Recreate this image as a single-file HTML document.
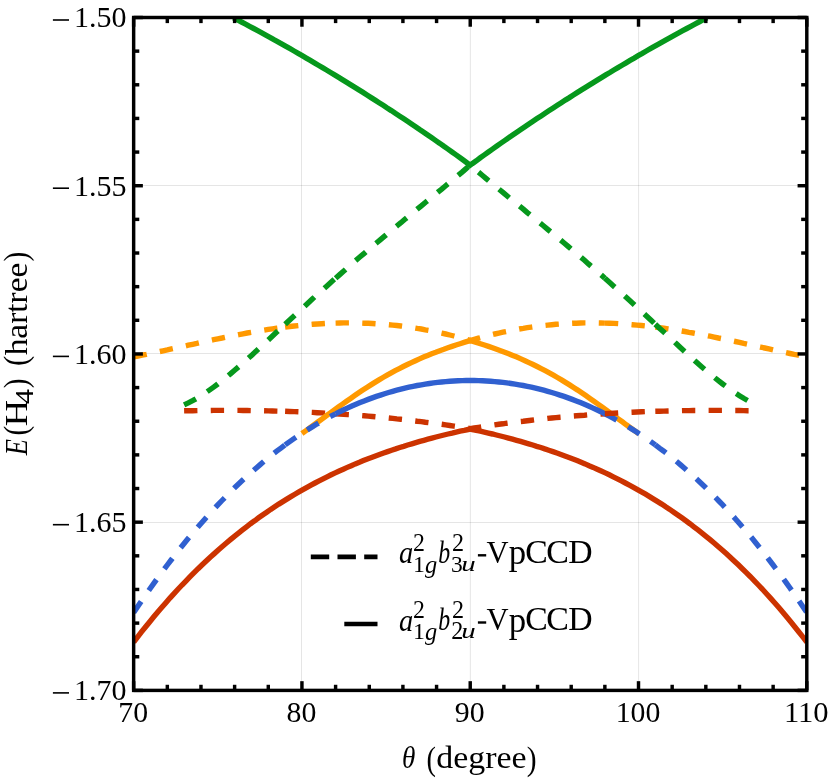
<!DOCTYPE html>
<html><head><meta charset="utf-8"><title>chart</title>
<style>html,body{margin:0;padding:0;background:#fff}svg{display:block;will-change:transform}text{font-family:"Liberation Serif",serif;fill:#000}</style></head><body>
<svg width="830" height="783" viewBox="0 0 830 783">
<rect width="830" height="783" fill="#fff"/>
<g stroke="#000" stroke-opacity="0.1" stroke-width="1" fill="none">
<line x1="301.5" y1="17.5" x2="301.5" y2="690.4"/>
<line x1="470.35" y1="17.5" x2="470.35" y2="690.4"/>
<line x1="638.6" y1="17.5" x2="638.6" y2="690.4"/>
<line x1="133.65" y1="185.5" x2="806.8" y2="185.5"/>
<line x1="133.65" y1="353.5" x2="806.8" y2="353.5"/>
<line x1="133.65" y1="522.5" x2="806.8" y2="522.5"/>
</g>
<defs><clipPath id="c"><rect x="133.65" y="17.5" width="673.15" height="672.9"/></clipPath></defs>
<g clip-path="url(#c)" fill="none" stroke-width="5.4" stroke-linejoin="miter">
<path d="M184.1,410.8 188.3,410.7 192.6,410.7 196.8,410.6 201.0,410.5 205.2,410.5 209.4,410.5 213.6,410.4 217.8,410.4 222.0,410.4 226.2,410.4 230.4,410.4 234.6,410.4 238.8,410.4 243.0,410.5 247.2,410.5 251.5,410.6 255.7,410.6 259.9,410.7 264.1,410.8 268.3,410.9 272.5,411.0 276.7,411.1 280.9,411.2 285.1,411.3" stroke="#cc3300" stroke-dasharray="13.33 13.33"/>
<path d="M285.1,411.3 289.7,411.5 294.3,411.6 298.9,411.8 303.5,412.0 308.1,412.2 312.6,412.4 317.2,412.7 321.8,412.9 326.4,413.2 331.0,413.4 335.6,413.7" stroke="#cc3300" stroke-dasharray="13.33 13.33"/>
<path d="M335.6,413.7 339.7,414.0 343.8,414.3 347.8,414.6 351.9,414.8 356.0,415.2 360.1,415.5 364.2,415.8 368.2,416.1 372.3,416.5 376.4,416.9 380.5,417.2 384.6,417.6 388.6,418.0 392.7,418.4 396.8,418.9 400.9,419.3 404.9,419.7 409.0,420.2 413.1,420.7 417.2,421.2 421.3,421.6 425.3,422.2 429.4,422.7 433.5,423.2 437.6,423.8 441.7,424.3 445.7,424.9 449.8,425.5 453.9,426.1 458.0,426.7 462.1,427.3 466.1,427.9 470.2,428.6 470.2,428.6 474.3,427.9 478.4,427.3 482.5,426.7 486.5,426.1 490.6,425.5 494.7,424.9 498.8,424.3 502.9,423.8 506.9,423.2 511.0,422.7 515.1,422.2 519.2,421.6 523.3,421.2 527.3,420.7 531.4,420.2 535.5,419.7 539.6,419.3 543.7,418.9 547.7,418.4 551.8,418.0 555.9,417.6 560.0,417.2 564.1,416.9 568.1,416.5 572.2,416.1 576.3,415.8 580.4,415.5 584.5,415.2 588.5,414.8 592.6,414.6 596.7,414.3 600.8,414.0 604.9,413.7" stroke="#cc3300" stroke-dasharray="13.33 13.33"/>
<path d="M133.7,356.9 137.9,356.1 142.1,355.2 146.3,354.4 150.5,353.5 154.7,352.6 158.9,351.7 163.1,350.8 167.3,349.9 171.5,348.9 175.7,348.0 179.9,347.1 184.1,346.2 188.3,345.2 192.6,344.3 196.8,343.4 201.0,342.4 205.2,341.5 209.4,340.6 213.6,339.7 217.8,338.8 222.0,338.0 226.2,337.1 230.4,336.2 234.6,335.4 238.8,334.6 243.0,333.8 247.2,333.0 251.5,332.3 255.7,331.5 259.9,330.8 264.1,330.1 268.3,329.4 272.5,328.8 276.7,328.2 280.9,327.6 285.1,327.1" stroke="#ff9900" stroke-dasharray="13.33 13.33"/>
<path d="M285.1,327.1 289.7,326.5 294.3,326.0 298.9,325.5 303.5,325.1 308.1,324.7 312.6,324.3 317.2,324.0 321.8,323.7 326.4,323.4 331.0,323.2 335.6,323.1" stroke="#ff9900" stroke-dasharray="13.33 13.33"/>
<path d="M335.6,323.1 339.7,323.0 343.8,322.9 347.8,322.9 351.9,322.9 356.0,322.9 360.1,323.0 364.2,323.2 368.2,323.3 372.3,323.5 376.4,323.8 380.5,324.0 384.6,324.3 388.6,324.7 392.7,325.1 396.8,325.5 400.9,326.0 404.9,326.5 409.0,327.1 413.1,327.7 417.2,328.4 421.3,329.0 425.3,329.8 429.4,330.5 433.5,331.4 437.6,332.2 441.7,333.1 445.7,334.0 449.8,335.0 453.9,336.0 458.0,337.1 462.1,338.2 466.1,339.3 470.2,340.5 470.2,340.5 474.3,339.3 478.4,338.2 482.5,337.1 486.5,336.0 490.6,335.0 494.7,334.0 498.8,333.1 502.9,332.2 506.9,331.4 511.0,330.5 515.1,329.8 519.2,329.0 523.3,328.4 527.3,327.7 531.4,327.1 535.5,326.5 539.6,326.0 543.7,325.5 547.7,325.1 551.8,324.7 555.9,324.3 560.0,324.0 564.1,323.8 568.1,323.5 572.2,323.3 576.3,323.2 580.4,323.0 584.5,322.9 588.5,322.9 592.6,322.9 596.7,322.9 600.8,323.0 604.9,323.1" stroke="#ff9900" stroke-dasharray="13.33 13.33"/>
<path d="M604.9,323.1 609.4,323.2 614.0,323.4 618.6,323.7 623.2,324.0 627.8,324.3 632.4,324.7 637.0,325.1 641.6,325.5 646.2,326.0 650.8,326.5 655.3,327.1" stroke="#ff9900" stroke-dasharray="13.33 13.33"/>
<path d="M655.3,327.1 659.5,327.6 663.8,328.2 668.0,328.8 672.2,329.4 676.4,330.1 680.6,330.8 684.8,331.5 689.0,332.3 693.2,333.0 697.4,333.8 701.6,334.6 705.8,335.4 710.0,336.2 714.2,337.1 718.4,338.0 722.7,338.8 726.9,339.7 731.1,340.6 735.3,341.5 739.5,342.4 743.7,343.4 747.9,344.3 752.1,345.2 756.3,346.2 760.5,347.1 764.7,348.0 768.9,348.9 773.1,349.9 777.3,350.8 781.6,351.7 785.8,352.6 790.0,353.5 794.2,354.4 798.4,355.2 802.6,356.1 806.8,356.9" stroke="#ff9900" stroke-dasharray="13.33 13.33"/>
<path d="M184.1,404.9 188.3,402.9 192.6,400.7 196.8,398.3 201.0,395.7 205.2,393.0 209.4,390.1 213.6,387.1 217.8,384.0 222.0,380.7 226.2,377.3 230.4,373.9 234.6,370.3 238.8,366.7 243.0,363.0 247.2,359.2 251.5,355.4 255.7,351.6 259.9,347.7 264.1,343.8 268.3,339.9 272.5,336.0 276.7,332.1 280.9,328.2 285.1,324.3" stroke="#06981c" stroke-dasharray="13.33 13.33"/>
<path d="M285.1,324.3 289.7,320.0 294.3,315.7 298.9,311.5 303.5,307.3 308.1,303.0 312.6,298.8 317.2,294.6 321.8,290.5 326.4,286.4 331.0,282.2 335.6,278.2" stroke="#06981c" stroke-dasharray="13.33 13.33"/>
<path d="M335.6,278.2 339.7,274.6 343.8,271.0 347.8,267.4 351.9,263.9 356.0,260.3 360.1,256.8 364.2,253.4 368.2,249.9 372.3,246.4 376.4,243.0 380.5,239.6 384.6,236.2 388.6,232.8 392.7,229.4 396.8,226.0 400.9,222.7 404.9,219.3 409.0,215.9 413.1,212.6 417.2,209.2 421.3,205.9 425.3,202.5 429.4,199.2 433.5,195.8 437.6,192.4 441.7,189.1 445.7,185.7 449.8,182.3 453.9,178.9 458.0,175.5 462.1,172.1 466.1,168.6 470.2,165.2 470.2,165.2 474.3,168.6 478.4,172.1 482.5,175.5 486.5,178.9 490.6,182.3 494.7,185.7 498.8,189.1 502.9,192.4 506.9,195.8 511.0,199.2 515.1,202.5 519.2,205.9 523.3,209.2 527.3,212.6 531.4,215.9 535.5,219.3 539.6,222.7 543.7,226.0 547.7,229.4 551.8,232.8 555.9,236.2 560.0,239.6 564.1,243.0 568.1,246.4 572.2,249.9 576.3,253.4 580.4,256.8 584.5,260.3 588.5,263.9 592.6,267.4 596.7,271.0 600.8,274.6 604.9,278.2" stroke="#06981c" stroke-dasharray="13.33 13.33"/>
<path d="M604.9,278.2 609.4,282.2 614.0,286.4 618.6,290.5 623.2,294.6 627.8,298.8 632.4,303.0 637.0,307.3 641.6,311.5 646.2,315.7 650.8,320.0 655.3,324.3" stroke="#06981c" stroke-dasharray="13.33 13.33"/>
<path d="M655.3,324.3 659.5,328.2 663.8,332.1 668.0,336.0 672.2,339.9 676.4,343.8 680.6,347.7 684.8,351.6 689.0,355.4 693.2,359.2 697.4,363.0 701.6,366.7 705.8,370.3 710.0,373.9 714.2,377.3 718.4,380.7 722.7,384.0 726.9,387.1 731.1,390.1 735.3,393.0 739.5,395.7 743.7,398.3 747.9,400.7 752.1,402.9 756.3,404.9" stroke="#06981c" stroke-dasharray="13.33 13.33"/>
<path d="M301.9,433.5 306.0,430.6 310.0,427.7 314.1,424.8 318.2,421.8 322.2,418.8 326.3,415.8 330.3,412.9 334.4,409.9 338.4,407.0 342.5,404.1 346.5,401.2 350.6,398.4 354.7,395.6 358.7,392.8 362.8,390.1 366.8,387.5 370.9,384.9 374.9,382.4 379.0,379.9 383.0,377.5 387.1,375.2 391.2,372.9 395.2,370.7 399.3,368.6 403.3,366.5 407.4,364.5 411.4,362.6 415.5,360.7 419.5,358.9 423.6,357.1 427.6,355.5 431.7,353.8 435.8,352.3 439.8,350.7 443.9,349.3 447.9,347.8 452.0,346.4 456.0,345.0 460.1,343.7 464.1,342.4 468.2,341.1 470.2,340.4 472.3,341.1 476.3,342.4 480.4,343.7 484.4,345.0 488.5,346.4 492.5,347.8 496.6,349.3 500.6,350.7 504.7,352.3 508.7,353.8 512.8,355.5 516.9,357.1 520.9,358.9 525.0,360.7 529.0,362.6 533.1,364.5 537.1,366.5 541.2,368.6 545.2,370.7 549.3,372.9 553.4,375.2 557.4,377.5 561.5,379.9 565.5,382.4 569.6,384.9 573.6,387.5 577.7,390.1 581.7,392.8 585.8,395.6 589.9,398.4 593.9,401.2 598.0,404.1 602.0,407.0 606.1,409.9 610.1,412.9 614.2,415.8 618.2,418.8 622.3,421.8 626.3,424.8 630.4,427.7 634.5,430.6 638.5,433.5" stroke="#ff9900"/>
<path d="M133.7,612.5 137.9,606.2 142.1,600.1 146.3,594.0 150.5,588.0 154.7,582.1 158.9,576.3 163.1,570.6 167.3,565.0 171.5,559.5 175.7,554.1 179.9,548.7 184.1,543.5 188.3,538.3 192.6,533.3 196.8,528.3 201.0,523.5 205.2,518.7 209.4,514.0 213.6,509.4 217.8,504.9 222.0,500.5 226.2,496.2 230.4,492.0 234.6,487.8 238.8,483.8 243.0,479.8 247.2,476.0 251.5,472.2 255.7,468.5 259.9,464.9 264.1,461.3 268.3,457.9 272.5,454.5 276.7,451.2 280.9,448.1 285.1,444.9" stroke="#3060d0" stroke-dasharray="13.33 13.33"/>
<path d="M285.1,444.9 289.7,441.6 294.3,438.4 298.9,435.3 303.5,432.3 308.1,429.4 312.6,426.6 317.2,423.8 321.8,421.2 326.4,418.6 331.0,416.2 335.6,413.8" stroke="#3060d0" stroke-dasharray="13.33 13.33"/>
<path d="M335.6,413.8 339.7,411.7 343.8,409.8 347.8,407.9 351.9,406.0 356.0,404.3 360.1,402.6 364.2,400.9 368.2,399.4 372.3,397.9 376.4,396.4 380.5,395.1 384.6,393.7 388.6,392.5 392.7,391.3 396.8,390.2 400.9,389.1 404.9,388.1 409.0,387.2 413.1,386.3 417.2,385.5 421.3,384.8 425.3,384.1 429.4,383.5 433.5,382.9 437.6,382.4 441.7,382.0 445.7,381.6 449.8,381.2 453.9,381.0 458.0,380.8 462.1,380.6 466.1,380.5 470.2,380.5 470.2,380.5 474.3,380.5 478.4,380.6 482.5,380.8 486.5,381.0 490.6,381.2 494.7,381.6 498.8,382.0 502.9,382.4 506.9,382.9 511.0,383.5 515.1,384.1 519.2,384.8 523.3,385.5 527.3,386.3 531.4,387.2 535.5,388.1 539.6,389.1 543.7,390.2 547.7,391.3 551.8,392.5 555.9,393.7 560.0,395.1 564.1,396.4 568.1,397.9 572.2,399.4 576.3,400.9 580.4,402.6 584.5,404.3 588.5,406.0 592.6,407.9 596.7,409.8 600.8,411.7 604.9,413.8" stroke="#3060d0"/>
<path d="M604.9,413.8 609.4,416.2 614.0,418.6 618.6,421.2 623.2,423.8 627.8,426.6 632.4,429.4 637.0,432.3 641.6,435.3 646.2,438.4 650.8,441.6 655.3,444.9" stroke="#3060d0" stroke-dasharray="13.33 13.33"/>
<path d="M655.3,444.9 659.5,448.1 663.8,451.2 668.0,454.5 672.2,457.9 676.4,461.3 680.6,464.9 684.8,468.5 689.0,472.2 693.2,476.0 697.4,479.8 701.6,483.8 705.8,487.8 710.0,492.0 714.2,496.2 718.4,500.5 722.7,504.9 726.9,509.4 731.1,514.0 735.3,518.7 739.5,523.5 743.7,528.3 747.9,533.3 752.1,538.3 756.3,543.5 760.5,548.7 764.7,554.1 768.9,559.5 773.1,565.0 777.3,570.6 781.6,576.3 785.8,582.1 790.0,588.0 794.2,594.0 798.4,600.1 802.6,606.2 806.8,612.5" stroke="#3060d0" stroke-dasharray="13.33 13.33"/>
<path d="M604.9,413.7 609.4,413.4 614.0,413.2 618.6,412.9 623.2,412.7 627.8,412.4 632.4,412.2 637.0,412.0 641.6,411.8 646.2,411.6 650.8,411.5 655.3,411.3" stroke="#cc3300" stroke-dasharray="13.33 13.33"/>
<path d="M655.3,411.3 659.5,411.2 663.8,411.1 668.0,411.0 672.2,410.9 676.4,410.8 680.6,410.7 684.8,410.6 689.0,410.6 693.2,410.5 697.4,410.5 701.6,410.4 705.8,410.4 710.0,410.4 714.2,410.4 718.4,410.4 722.7,410.4 726.9,410.4 731.1,410.5 735.3,410.5 739.5,410.5 743.7,410.6 747.9,410.7 752.1,410.7 756.3,410.8" stroke="#cc3300" stroke-dasharray="13.33 13.33"/>
<path d="M133.7,642.1 137.7,636.9 141.7,631.7 145.7,626.7 149.8,621.7 153.8,616.8 157.8,612.0 161.9,607.3 165.9,602.7 169.9,598.1 174.0,593.7 178.0,589.3 182.0,585.0 186.1,580.8 190.1,576.7 194.1,572.7 198.1,568.7 202.2,564.8 206.2,561.0 210.2,557.2 214.3,553.6 218.3,550.0 222.3,546.5 226.4,543.0 230.4,539.6 234.4,536.3 238.5,533.1 242.5,529.9 246.5,526.8 250.5,523.7 254.6,520.8 258.6,517.8 262.6,515.0 266.7,512.2 270.7,509.4 274.7,506.8 278.8,504.1 282.8,501.6 286.8,499.1 290.9,496.6 294.9,494.2 298.9,491.9 302.9,489.6 307.0,487.3 311.0,485.1 315.0,483.0 319.1,480.9 323.1,478.8 327.1,476.8 331.2,474.8 335.2,472.9 339.2,471.0 343.3,469.2 347.3,467.4 351.3,465.7 355.3,463.9 359.4,462.3 363.4,460.6 367.4,459.0 371.5,457.5 375.5,456.0 379.5,454.5 383.6,453.0 387.6,451.6 391.6,450.2 395.7,448.9 399.7,447.5 403.7,446.3 407.7,445.0 411.8,443.8 415.8,442.6 419.8,441.4 423.9,440.3 427.9,439.2 431.9,438.1 436.0,437.0 440.0,436.0 444.0,435.0 448.1,434.0 452.1,433.1 456.1,432.1 460.1,431.2 464.2,430.4 468.2,429.5 470.2,429.1 472.2,429.5 476.3,430.4 480.3,431.2 484.3,432.1 488.4,433.1 492.4,434.0 496.4,435.0 500.5,436.0 504.5,437.0 508.5,438.1 512.5,439.2 516.6,440.3 520.6,441.4 524.6,442.6 528.7,443.8 532.7,445.0 536.7,446.3 540.8,447.5 544.8,448.9 548.8,450.2 552.9,451.6 556.9,453.0 560.9,454.5 564.9,456.0 569.0,457.5 573.0,459.0 577.0,460.6 581.1,462.3 585.1,463.9 589.1,465.7 593.2,467.4 597.2,469.2 601.2,471.0 605.3,472.9 609.3,474.8 613.3,476.8 617.4,478.8 621.4,480.9 625.4,483.0 629.4,485.1 633.5,487.3 637.5,489.6 641.5,491.9 645.6,494.2 649.6,496.6 653.6,499.1 657.7,501.6 661.7,504.1 665.7,506.8 669.8,509.4 673.8,512.2 677.8,515.0 681.8,517.8 685.9,520.8 689.9,523.7 693.9,526.8 698.0,529.9 702.0,533.1 706.0,536.3 710.1,539.6 714.1,543.0 718.1,546.5 722.2,550.0 726.2,553.6 730.2,557.2 734.2,561.0 738.3,564.8 742.3,568.7 746.3,572.7 750.4,576.7 754.4,580.8 758.4,585.0 762.5,589.3 766.5,593.7 770.5,598.1 774.6,602.7 778.6,607.3 782.6,612.0 786.6,616.8 790.7,621.7 794.7,626.7 798.7,631.7 802.8,636.9 806.8,642.1" stroke="#cc3300"/>
<path d="M233.4,17.8 237.5,19.9 241.5,22.0 245.6,24.1 249.6,26.3 253.7,28.5 257.7,30.7 261.8,32.9 265.8,35.1 269.9,37.3 273.9,39.6 278.0,41.8 282.0,44.1 286.0,46.4 290.1,48.7 294.1,51.0 298.2,53.4 302.2,55.7 306.3,58.1 310.3,60.4 314.4,62.8 318.4,65.2 322.5,67.6 326.5,70.0 330.6,72.5 334.6,74.9 338.7,77.4 342.7,79.9 346.8,82.4 350.8,84.9 354.9,87.4 358.9,89.9 363.0,92.4 367.0,95.0 371.1,97.6 375.1,100.1 379.1,102.7 383.2,105.3 387.2,108.0 391.3,110.6 395.3,113.3 399.4,115.9 403.4,118.6 407.5,121.3 411.5,124.0 415.6,126.7 419.6,129.5 423.7,132.2 427.7,135.0 431.8,137.8 435.8,140.6 439.9,143.4 443.9,146.3 448.0,149.1 452.0,152.0 456.1,154.9 460.1,157.8 464.2,160.8 468.2,163.7 470.2,165.2 472.2,163.7 476.3,160.8 480.3,157.8 484.4,154.9 488.4,152.0 492.5,149.1 496.5,146.3 500.6,143.4 504.6,140.6 508.7,137.8 512.7,135.0 516.8,132.2 520.8,129.5 524.9,126.7 528.9,124.0 533.0,121.3 537.0,118.6 541.1,115.9 545.1,113.3 549.2,110.6 553.2,108.0 557.3,105.3 561.3,102.7 565.3,100.1 569.4,97.6 573.4,95.0 577.5,92.4 581.5,89.9 585.6,87.4 589.6,84.9 593.7,82.4 597.7,79.9 601.8,77.4 605.8,74.9 609.9,72.5 613.9,70.0 618.0,67.6 622.0,65.2 626.1,62.8 630.1,60.4 634.2,58.1 638.2,55.7 642.3,53.4 646.3,51.0 650.4,48.7 654.4,46.4 658.5,44.1 662.5,41.8 666.5,39.6 670.6,37.3 674.6,35.1 678.7,32.9 682.7,30.7 686.8,28.5 690.8,26.3 694.9,24.1 698.9,22.0 703.0,19.9 707.0,17.8" stroke="#06981c"/>
</g>
<g stroke="#000" stroke-width="3.45" fill="none">
<line x1="133.65" y1="17.5" x2="133.65" y2="26.73"/><line x1="133.65" y1="690.4" x2="133.65" y2="681.17"/>
<line x1="167.31" y1="17.5" x2="167.31" y2="23.12"/><line x1="167.31" y1="690.4" x2="167.31" y2="684.77"/>
<line x1="200.97" y1="17.5" x2="200.97" y2="23.12"/><line x1="200.97" y1="690.4" x2="200.97" y2="684.77"/>
<line x1="234.62" y1="17.5" x2="234.62" y2="23.12"/><line x1="234.62" y1="690.4" x2="234.62" y2="684.77"/>
<line x1="268.28" y1="17.5" x2="268.28" y2="23.12"/><line x1="268.28" y1="690.4" x2="268.28" y2="684.77"/>
<line x1="301.94" y1="17.5" x2="301.94" y2="26.73"/><line x1="301.94" y1="690.4" x2="301.94" y2="681.17"/>
<line x1="335.60" y1="17.5" x2="335.60" y2="23.12"/><line x1="335.60" y1="690.4" x2="335.60" y2="684.77"/>
<line x1="369.25" y1="17.5" x2="369.25" y2="23.12"/><line x1="369.25" y1="690.4" x2="369.25" y2="684.77"/>
<line x1="402.91" y1="17.5" x2="402.91" y2="23.12"/><line x1="402.91" y1="690.4" x2="402.91" y2="684.77"/>
<line x1="436.57" y1="17.5" x2="436.57" y2="23.12"/><line x1="436.57" y1="690.4" x2="436.57" y2="684.77"/>
<line x1="470.23" y1="17.5" x2="470.23" y2="26.73"/><line x1="470.23" y1="690.4" x2="470.23" y2="681.17"/>
<line x1="503.88" y1="17.5" x2="503.88" y2="23.12"/><line x1="503.88" y1="690.4" x2="503.88" y2="684.77"/>
<line x1="537.54" y1="17.5" x2="537.54" y2="23.12"/><line x1="537.54" y1="690.4" x2="537.54" y2="684.77"/>
<line x1="571.20" y1="17.5" x2="571.20" y2="23.12"/><line x1="571.20" y1="690.4" x2="571.20" y2="684.77"/>
<line x1="604.86" y1="17.5" x2="604.86" y2="23.12"/><line x1="604.86" y1="690.4" x2="604.86" y2="684.77"/>
<line x1="638.51" y1="17.5" x2="638.51" y2="26.73"/><line x1="638.51" y1="690.4" x2="638.51" y2="681.17"/>
<line x1="672.17" y1="17.5" x2="672.17" y2="23.12"/><line x1="672.17" y1="690.4" x2="672.17" y2="684.77"/>
<line x1="705.83" y1="17.5" x2="705.83" y2="23.12"/><line x1="705.83" y1="690.4" x2="705.83" y2="684.77"/>
<line x1="739.48" y1="17.5" x2="739.48" y2="23.12"/><line x1="739.48" y1="690.4" x2="739.48" y2="684.77"/>
<line x1="773.14" y1="17.5" x2="773.14" y2="23.12"/><line x1="773.14" y1="690.4" x2="773.14" y2="684.77"/>
<line x1="806.80" y1="17.5" x2="806.80" y2="26.73"/><line x1="806.80" y1="690.4" x2="806.80" y2="681.17"/>
<line x1="133.65" y1="17.50" x2="142.88" y2="17.50"/><line x1="806.8" y1="17.50" x2="797.57" y2="17.50"/>
<line x1="133.65" y1="51.14" x2="139.28" y2="51.14"/><line x1="806.8" y1="51.14" x2="801.17" y2="51.14"/>
<line x1="133.65" y1="84.79" x2="139.28" y2="84.79"/><line x1="806.8" y1="84.79" x2="801.17" y2="84.79"/>
<line x1="133.65" y1="118.43" x2="139.28" y2="118.43"/><line x1="806.8" y1="118.43" x2="801.17" y2="118.43"/>
<line x1="133.65" y1="152.08" x2="139.28" y2="152.08"/><line x1="806.8" y1="152.08" x2="801.17" y2="152.08"/>
<line x1="133.65" y1="185.72" x2="142.88" y2="185.72"/><line x1="806.8" y1="185.72" x2="797.57" y2="185.72"/>
<line x1="133.65" y1="219.37" x2="139.28" y2="219.37"/><line x1="806.8" y1="219.37" x2="801.17" y2="219.37"/>
<line x1="133.65" y1="253.02" x2="139.28" y2="253.02"/><line x1="806.8" y1="253.02" x2="801.17" y2="253.02"/>
<line x1="133.65" y1="286.66" x2="139.28" y2="286.66"/><line x1="806.8" y1="286.66" x2="801.17" y2="286.66"/>
<line x1="133.65" y1="320.30" x2="139.28" y2="320.30"/><line x1="806.8" y1="320.30" x2="801.17" y2="320.30"/>
<line x1="133.65" y1="353.95" x2="142.88" y2="353.95"/><line x1="806.8" y1="353.95" x2="797.57" y2="353.95"/>
<line x1="133.65" y1="387.59" x2="139.28" y2="387.59"/><line x1="806.8" y1="387.59" x2="801.17" y2="387.59"/>
<line x1="133.65" y1="421.24" x2="139.28" y2="421.24"/><line x1="806.8" y1="421.24" x2="801.17" y2="421.24"/>
<line x1="133.65" y1="454.88" x2="139.28" y2="454.88"/><line x1="806.8" y1="454.88" x2="801.17" y2="454.88"/>
<line x1="133.65" y1="488.53" x2="139.28" y2="488.53"/><line x1="806.8" y1="488.53" x2="801.17" y2="488.53"/>
<line x1="133.65" y1="522.17" x2="142.88" y2="522.17"/><line x1="806.8" y1="522.17" x2="797.57" y2="522.17"/>
<line x1="133.65" y1="555.82" x2="139.28" y2="555.82"/><line x1="806.8" y1="555.82" x2="801.17" y2="555.82"/>
<line x1="133.65" y1="589.46" x2="139.28" y2="589.46"/><line x1="806.8" y1="589.46" x2="801.17" y2="589.46"/>
<line x1="133.65" y1="623.11" x2="139.28" y2="623.11"/><line x1="806.8" y1="623.11" x2="801.17" y2="623.11"/>
<line x1="133.65" y1="656.75" x2="139.28" y2="656.75"/><line x1="806.8" y1="656.75" x2="801.17" y2="656.75"/>
<line x1="133.65" y1="690.40" x2="142.88" y2="690.40"/><line x1="806.8" y1="690.40" x2="797.57" y2="690.40"/>
<rect x="133.65" y="17.5" width="673.15" height="672.9"/>
</g>
<g font-size="29">
<rect x="52.9" y="19.2" width="16.1" height="1.6"/>
<text x="126.5" y="27.3" text-anchor="end" textLength="52.5" lengthAdjust="spacingAndGlyphs">1.50</text>
<rect x="52.9" y="187.4" width="16.1" height="1.6"/>
<text x="126.5" y="195.5" text-anchor="end" textLength="52.5" lengthAdjust="spacingAndGlyphs">1.55</text>
<rect x="52.9" y="355.6" width="16.1" height="1.6"/>
<text x="126.5" y="363.8" text-anchor="end" textLength="52.5" lengthAdjust="spacingAndGlyphs">1.60</text>
<rect x="52.9" y="523.9" width="16.1" height="1.6"/>
<text x="126.5" y="532.0" text-anchor="end" textLength="52.5" lengthAdjust="spacingAndGlyphs">1.65</text>
<rect x="52.9" y="692.1" width="16.1" height="1.6"/>
<text x="126.5" y="700.2" text-anchor="end" textLength="52.5" lengthAdjust="spacingAndGlyphs">1.70</text>
<text x="133.2" y="721.7" text-anchor="middle" textLength="29.8" lengthAdjust="spacingAndGlyphs">70</text>
<text x="301.4" y="721.7" text-anchor="middle" textLength="29.8" lengthAdjust="spacingAndGlyphs">80</text>
<text x="469.7" y="721.7" text-anchor="middle" textLength="29.8" lengthAdjust="spacingAndGlyphs">90</text>
<text x="638.0" y="721.7" text-anchor="middle" textLength="44.7" lengthAdjust="spacingAndGlyphs">100</text>
<text x="806.3" y="721.7" text-anchor="middle" textLength="44.7" lengthAdjust="spacingAndGlyphs">110</text>
</g>
<text transform="translate(402.01,768.49) scale(0.2714,0.3113)" font-size="100" font-style="italic">θ</text>
<text transform="translate(426.60,769.87) scale(0.2835,0.3449)" font-size="100">(</text>
<text transform="translate(436.31,767.50) scale(1.0597,1)" font-size="32">degree</text>
<text transform="translate(526.84,769.87) scale(0.2951,0.3449)" font-size="100">)</text>
<g transform="translate(27,456) rotate(-90)">
<text transform="translate(0.63,0.00) scale(0.2650,0.3160)" font-size="100" font-style="italic">E</text>
<text transform="translate(20.38,0.31) scale(0.2874,0.3383)" font-size="100">(</text>
<text transform="translate(29.80,0.00) scale(0.3639,0.3160)" font-size="100">H</text>
<text transform="translate(52.01,6.40) scale(0.2968,0.2540)" font-size="100">4</text>
<text transform="translate(67.75,0.31) scale(0.2913,0.3383)" font-size="100">)</text>
<text transform="translate(90.08,0.31) scale(0.3107,0.3383)" font-size="100">(</text>
<text transform="translate(100.67,0.00) scale(1.0596,1)" font-size="31.5">hartree</text>
<text transform="translate(194.55,0.31) scale(0.2913,0.3383)" font-size="100">)</text>
</g>
<g stroke="#000" stroke-width="4.7" fill="none">
<path d="M310.8,556.8H377.5" stroke-dasharray="18.4 8.3"/>
<path d="M344.3,624.0H377.5"/>
</g>
<g transform="translate(0,0)">
<text transform="translate(399.05,563.48) scale(0.2844,0.3208)" font-size="100" font-style="italic">a</text>
<text transform="translate(412.99,550.60) scale(0.2385,0.2491)" font-size="100">2</text>
<text transform="translate(413.11,571.60) scale(0.2383,0.2394)" font-size="100">1</text>
<text transform="translate(425.10,573.06) scale(0.2447,0.2418)" font-size="100" font-style="italic">g</text>
<text transform="translate(438.21,562.98) scale(0.2382,0.3163)" font-size="100" font-style="italic">b</text>
<text transform="translate(451.88,550.80) scale(0.2410,0.2521)" font-size="100">2</text>
<text transform="translate(451.08,571.66) scale(0.2352,0.2409)" font-size="100">3</text>
<text transform="translate(461.15,570.63) scale(0.2892,0.2180)" font-size="100" font-style="italic">u</text>
<rect x="477.9" y="554.1" width="8.3" height="2.4"/>
<text transform="translate(486.59,563.01) scale(0.3057,0.3254)" font-size="100">V</text>
<text transform="translate(508.68,564.31) scale(0.3483,0.3619)" font-size="100">p</text>
<text transform="translate(525.15,563.27) scale(0.3371,0.3331)" font-size="100">C</text>
<text transform="translate(546.14,563.27) scale(0.3389,0.3331)" font-size="100">C</text>
<text transform="translate(568.17,563.12) scale(0.3374,0.3285)" font-size="100">D</text>
</g>
<g transform="translate(0,67.2)">
<text transform="translate(399.05,563.48) scale(0.2844,0.3208)" font-size="100" font-style="italic">a</text>
<text transform="translate(412.99,550.60) scale(0.2385,0.2491)" font-size="100">2</text>
<text transform="translate(413.11,571.60) scale(0.2383,0.2394)" font-size="100">1</text>
<text transform="translate(425.10,573.06) scale(0.2447,0.2418)" font-size="100" font-style="italic">g</text>
<text transform="translate(438.21,562.98) scale(0.2382,0.3163)" font-size="100" font-style="italic">b</text>
<text transform="translate(451.88,550.80) scale(0.2410,0.2521)" font-size="100">2</text>
<text transform="translate(451.18,571.90) scale(0.2410,0.2445)" font-size="100">2</text>
<text transform="translate(461.15,570.63) scale(0.2892,0.2180)" font-size="100" font-style="italic">u</text>
<rect x="477.9" y="554.1" width="8.3" height="2.4"/>
<text transform="translate(486.59,563.01) scale(0.3057,0.3254)" font-size="100">V</text>
<text transform="translate(508.68,564.31) scale(0.3483,0.3619)" font-size="100">p</text>
<text transform="translate(525.15,563.27) scale(0.3371,0.3331)" font-size="100">C</text>
<text transform="translate(546.14,563.27) scale(0.3389,0.3331)" font-size="100">C</text>
<text transform="translate(568.17,563.12) scale(0.3374,0.3285)" font-size="100">D</text>
</g>
</svg></body></html>
